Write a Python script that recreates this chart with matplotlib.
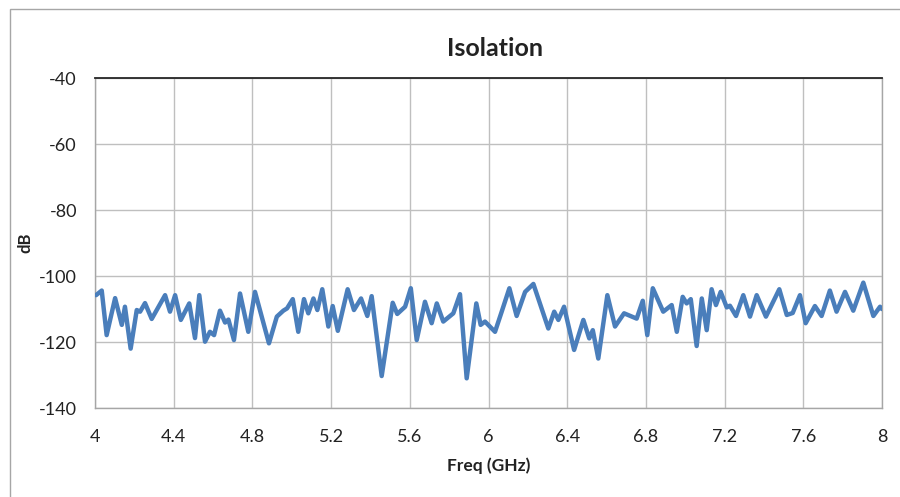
import matplotlib
matplotlib.use("Agg")
import matplotlib.pyplot as plt
from matplotlib.patches import Rectangle

freq_ghz = [4.005, 4.034, 4.059, 4.102, 4.136, 4.152, 4.181, 4.212, 4.229, 4.254,
            4.288, 4.356, 4.381, 4.407, 4.436, 4.479, 4.508, 4.530, 4.559, 4.584,
            4.605, 4.635, 4.661, 4.678, 4.706, 4.737, 4.779, 4.813, 4.884, 4.924,
            4.957, 4.976, 5.005, 5.033, 5.062, 5.084, 5.110, 5.130, 5.155, 5.186,
            5.208, 5.234, 5.284, 5.316, 5.352, 5.384, 5.406, 5.457, 5.513, 5.536,
            5.576, 5.605, 5.635, 5.677, 5.711, 5.737, 5.770, 5.821, 5.855, 5.889,
            5.938, 5.960, 5.982, 6.033, 6.067, 6.106, 6.143, 6.186, 6.228, 6.304,
            6.334, 6.355, 6.384, 6.435, 6.482, 6.512, 6.530, 6.558, 6.604, 6.643,
            6.689, 6.753, 6.784, 6.807, 6.835, 6.888, 6.931, 6.957, 6.987, 7.007,
            7.028, 7.058, 7.084, 7.109, 7.134, 7.156, 7.180, 7.211, 7.227, 7.258,
            7.295, 7.329, 7.363, 7.410, 7.478, 7.516, 7.546, 7.583, 7.612, 7.659,
            7.693, 7.735, 7.769, 7.812, 7.854, 7.905, 7.956, 7.990, 8.000]
isolation_db = [-105.8, -104.4, -117.9, -106.7, -114.8, -109.3, -122.0, -110.3, -110.8, -108.2,
                -113.0, -105.8, -110.8, -105.8, -113.3, -108.3, -118.8, -105.8, -119.9, -116.9,
                -117.9, -110.5, -114.1, -113.2, -119.4, -105.3, -116.9, -104.8, -120.4, -112.3,
                -110.5, -109.8, -107.0, -116.9, -107.0, -111.3, -106.8, -110.3, -104.0, -115.3,
                -109.1, -116.6, -104.0, -110.3, -106.8, -112.1, -106.1, -130.3, -108.1, -111.5,
                -109.3, -103.7, -119.4, -107.8, -114.3, -108.3, -113.8, -111.3, -105.5, -131.0,
                -108.3, -114.8, -113.8, -116.9, -110.8, -103.7, -112.1, -104.8, -102.4, -115.9,
                -110.8, -113.3, -109.3, -122.4, -113.3, -118.9, -116.4, -125.0, -105.8, -115.3,
                -111.3, -112.9, -107.5, -117.9, -103.7, -110.8, -108.8, -116.9, -106.3, -108.3,
                -107.0, -121.2, -106.8, -116.4, -104.0, -108.8, -104.8, -109.5, -109.0, -112.1,
                -105.8, -112.3, -105.8, -112.3, -104.0, -111.8, -111.2, -105.8, -114.3, -109.1,
                -112.1, -104.4, -110.8, -104.8, -110.5, -102.0, -112.1, -109.3, -110.0]

x_ticks = [4, 4.4, 4.8, 5.2, 5.6, 6, 6.4, 6.8, 7.2, 7.6, 8]
x_tick_labels = ["4", "4.4", "4.8", "5.2", "5.6", "6", "6.4", "6.8", "7.2", "7.6", "8"]
y_ticks = [-140, -120, -100, -80, -60, -40]
y_tick_labels = ["-140", "-120", "-100", "-80", "-60", "-40"]

plt.rcParams['font.family'] = ['Lato', 'DejaVu Sans']
plt.rcParams['axes.unicode_minus'] = False

fig = plt.figure(figsize=(9, 4.97), dpi=100)

fig.patches.append(Rectangle((0.011, -0.05), 1.2, 1.032, transform=fig.transFigure,
                             fill=False, edgecolor="#A6A6A6", linewidth=1.0, zorder=1))

ax = fig.add_axes([0.1056, 0.179, 0.8744, 0.664])

ax.plot(freq_ghz, isolation_db, color="#4A7EBB", linewidth=3.2,
        solid_joinstyle="round", solid_capstyle="round", zorder=3)

ax.set_xlim(4, 8)
ax.set_ylim(-140, -40)
ax.set_xticks(x_ticks)
ax.set_xticklabels(x_tick_labels)
ax.set_yticks(y_ticks)
ax.set_yticklabels(y_tick_labels)
ax.grid(True, color="#BFBFBF", linewidth=1.0)
ax.set_axisbelow(True)
for side in ["left", "right", "bottom"]:
    ax.spines[side].set_color("#A6A6A6")
    ax.spines[side].set_linewidth(1.0)
ax.spines["top"].set_color("#262626")
ax.spines["top"].set_linewidth(1.3)
ax.tick_params(length=0, labelsize=13, colors="#222222")
ax.tick_params(axis="x", pad=15)
ax.tick_params(axis="y", pad=13)

ax.set_title("Isolation", fontsize=18, fontweight="bold", color="#222222",
             x=0.5076, pad=16)
ax.set_xlabel("Freq (GHz)", fontsize=12.5, fontweight="bold", color="#222222", labelpad=9)
ax.set_ylabel("dB", fontsize=12, fontweight="bold", color="#222222", labelpad=4)

fig.savefig("out.png", dpi=100)
